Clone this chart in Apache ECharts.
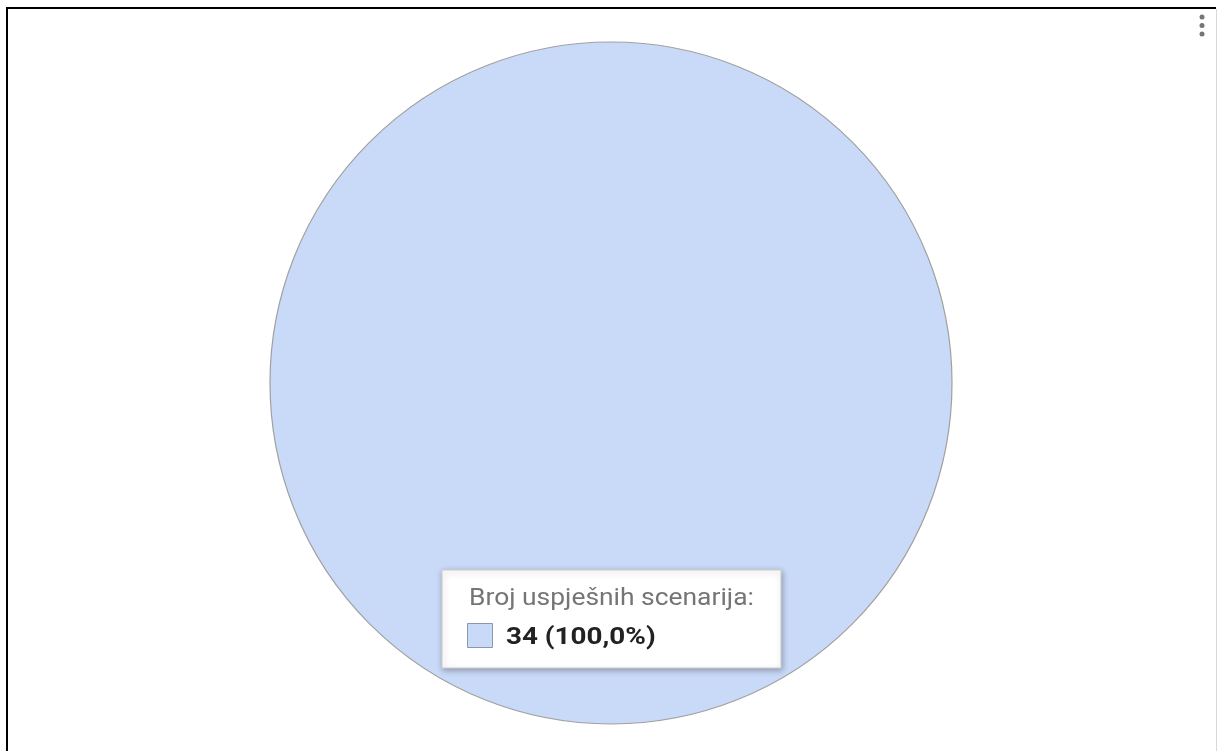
<!DOCTYPE html>
<html><head><meta charset="utf-8">
<script src="https://cdn.jsdelivr.net/npm/echarts@6/dist/echarts.min.js"></script>
<style>html,body{margin:0;padding:0;background:#fff;}#c{width:1218px;height:751px;}</style>
</head><body><div id="c"></div>
<script>
var categories = ['Broj uspješnih scenarija'];
var values = [34];
var total = values.reduce(function(a,b){return a+b;},0);
var pct = (values[0]/total*100).toFixed(1).replace('.', ',');
var tipTitle = categories[0] + ':';
var tipValue = values[0] + ' (' + pct + '%)';

var chart = echarts.init(document.getElementById('c'));
chart.setOption({
  animation: false,
  series: [{
    type: 'pie',
    center: [611, 383],
    radius: 341,
    label: {show: false},
    labelLine: {show: false},
    itemStyle: {color: '#c9daf8', borderColor: '#a0a0a0', borderWidth: 1.2},
    emphasis: {disabled: true},
    data: categories.map(function(c,i){return {name:c, value:values[i]};})
  }],
  graphic: {elements: [
    {type:'rect', z:100, shape:{x:6,y:7,width:1210,height:2}, style:{fill:'#000'}},
    {type:'rect', z:100, shape:{x:6,y:7,width:2,height:744}, style:{fill:'#000'}},
    {type:'rect', z:100, shape:{x:1216,y:9,width:1,height:742}, style:{fill:'#d8d8d8'}},
    {type:'circle', z:100, shape:{cx:1202,cy:17,r:2.5}, style:{fill:'#757575'}},
    {type:'circle', z:100, shape:{cx:1202,cy:25.5,r:2.5}, style:{fill:'#757575'}},
    {type:'circle', z:100, shape:{cx:1202,cy:34,r:2.5}, style:{fill:'#757575'}},
    {type:'rect', z:100, shape:{x:442,y:570,width:339,height:98},
     style:{fill:'#fff', stroke:'#cccccc', lineWidth:1, shadowBlur:6, shadowOffsetX:1, shadowOffsetY:2, shadowColor:'rgba(0,0,0,0.3)'}},
    {type:'text', z:101, x:469, y:599, scaleX:1.1, style:{text:tipTitle, fill:'#757575', fontSize:24, fontFamily:'Roboto', verticalAlign:'middle'}},
    {type:'rect', z:101, shape:{x:467.5,y:623.5,width:25,height:24}, style:{fill:'#c9daf8', stroke:'#8a97ad', lineWidth:1}},
    {type:'text', z:101, x:506, y:638, scaleX:1.16, style:{text:tipValue, fill:'#222', fontSize:24, fontWeight:'bold', fontFamily:'Roboto', verticalAlign:'middle'}}
  ]}
});
</script></body></html>
